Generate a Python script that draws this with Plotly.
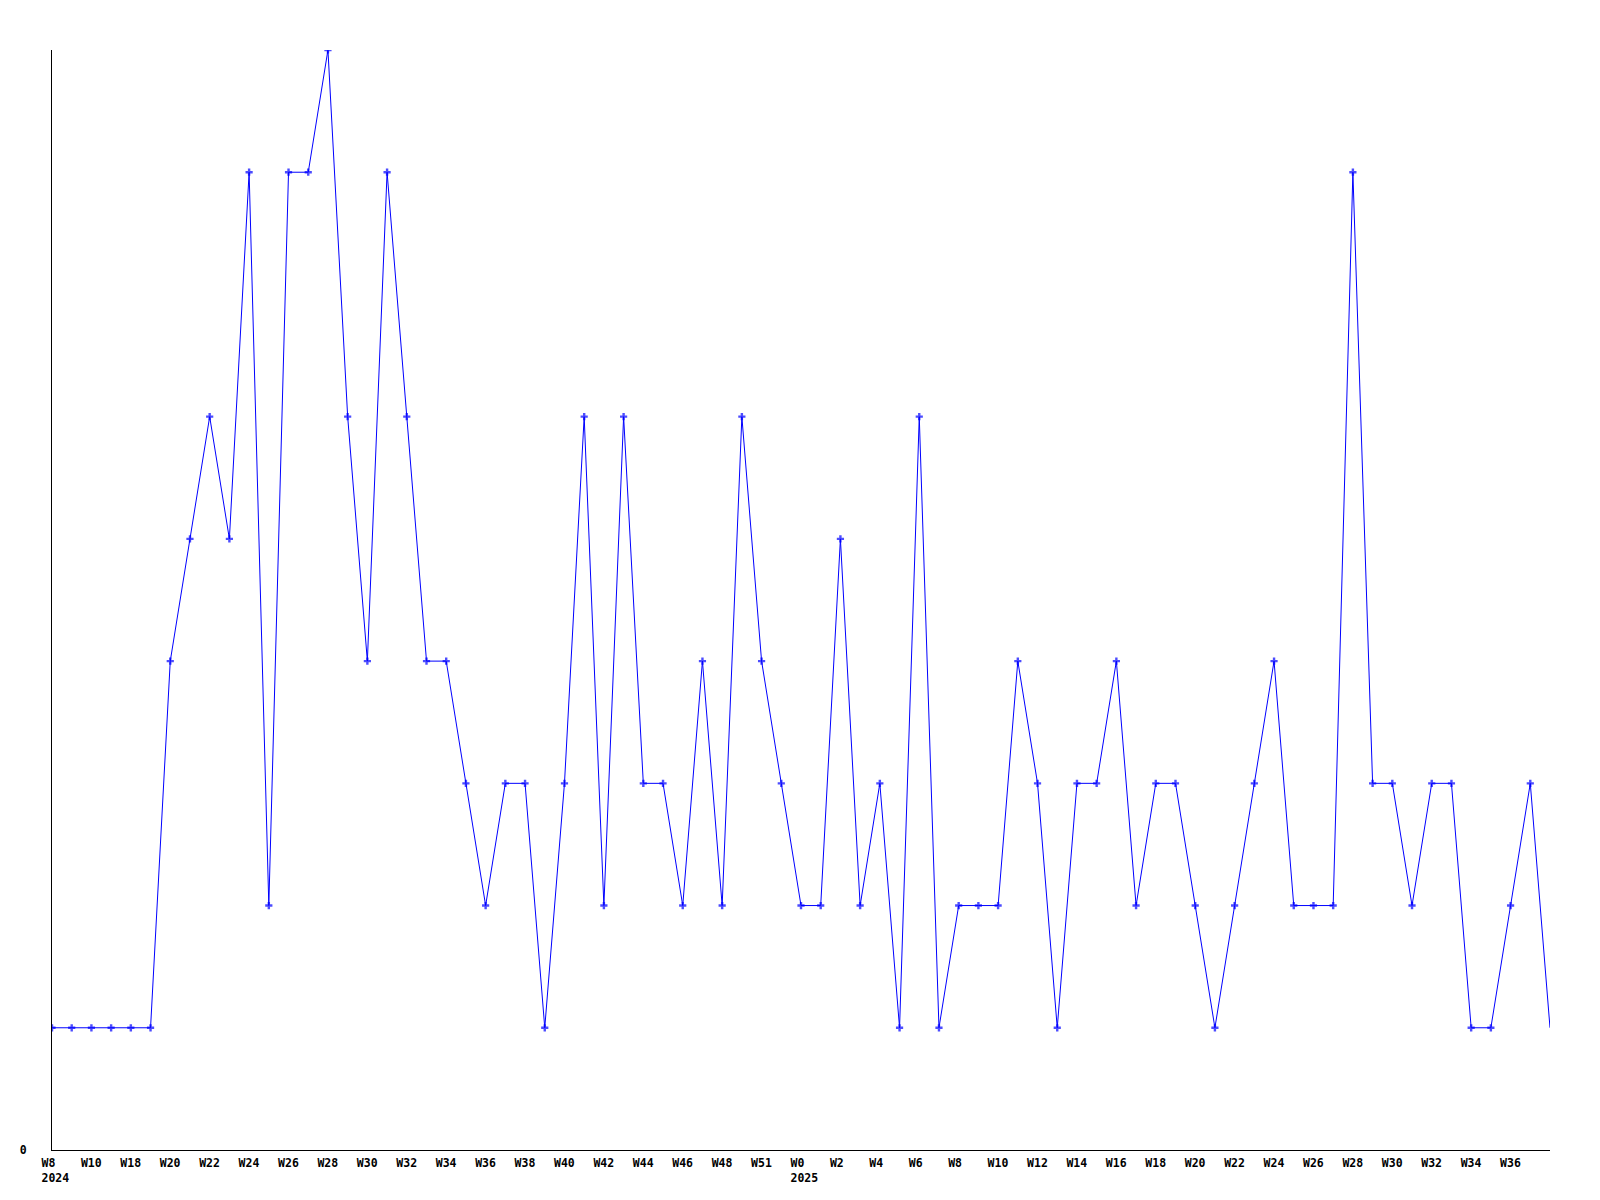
import plotly.graph_objects as go

weeks = ["W8", "W9", "W10", "W11", "W18", "W19", "W20", "W21", "W22", "W23",
         "W24", "W25", "W26", "W27", "W28", "W29", "W30", "W31", "W32", "W33",
         "W34", "W35", "W36", "W37", "W38", "W39", "W40", "W41", "W42", "W43",
         "W44", "W45", "W46", "W47", "W48", "W50", "W51", "W52", "W0", "W1",
         "W2", "W3", "W4", "W5", "W6", "W7", "W8", "W9", "W10", "W11",
         "W12", "W13", "W14", "W15", "W16", "W17", "W18", "W19", "W20", "W21",
         "W22", "W23", "W24", "W25", "W26", "W27", "W28", "W29", "W30", "W31",
         "W32", "W33", "W34", "W35", "W36", "W37", "W38"]
values = [1, 1, 1, 1, 1, 1, 4, 5, 6, 5,
          8, 2, 8, 8, 9, 6, 4, 8, 6, 4,
          4, 3, 2, 3, 3, 1, 3, 6, 2, 6,
          3, 3, 2, 4, 2, 6, 4, 3, 2, 2,
          5, 2, 3, 1, 6, 1, 2, 2, 2, 4,
          3, 1, 3, 3, 4, 2, 3, 3, 2, 1,
          2, 3, 4, 2, 2, 2, 8, 3, 3, 2,
          3, 3, 1, 1, 2, 3, 1]
year_marks = {0: "2024", 38: "2025"}

x = list(range(len(values)))
tickvals = x[0:-2:2]
ticktext = []
for i in tickvals:
    t = weeks[i]
    if i in year_marks:
        t += "<br>" + year_marks[i]
    ticktext.append(t)

sizes = [6] * len(values)
sizes[-1] = 0

fig = go.Figure()
fig.add_trace(go.Scatter(
    x=x, y=values, mode="lines+markers",
    line=dict(color="#0000ff", width=1),
    marker=dict(symbol="cross", size=sizes, color="#0000ff", line=dict(width=0)),
    hoverinfo="skip",
))

font = dict(family="DejaVu Sans Mono", size=11.5, color="#000000", weight="bold")

fig.update_layout(
    width=1600, height=1200,
    margin=dict(l=42, r=58, t=42, b=58),
    paper_bgcolor="white", plot_bgcolor="white",
    showlegend=False,
    xaxis=dict(
        range=[0, len(values) - 1], tickvals=tickvals, ticktext=ticktext,
        showgrid=False, zeroline=False, showline=True, linecolor="black", linewidth=1,
        ticks="", tickfont=font, tickangle=0,
        ticklabelposition="outside right", ticklabelshift=-11, ticklabelstandoff=2,
    ),
    yaxis=dict(
        range=[0, 9], tickvals=[0], ticktext=["0"],
        showgrid=False, zeroline=False, showline=True, linecolor="black", linewidth=1,
        ticks="outside", ticklen=22, tickcolor="rgba(0,0,0,0)", tickfont=font,
    ),
)

fig.write_html("out.html")
